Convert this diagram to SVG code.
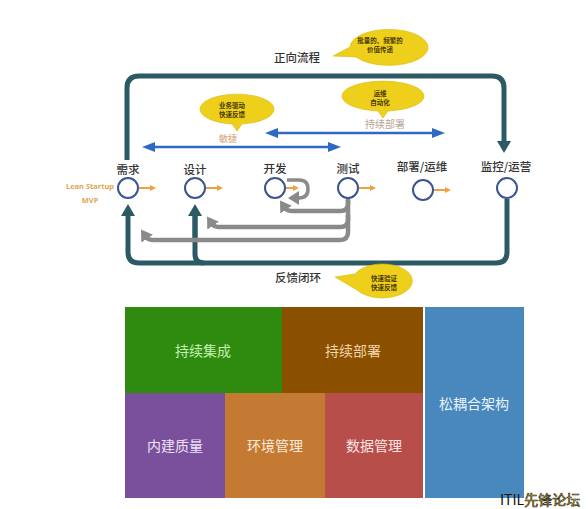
<svg xmlns="http://www.w3.org/2000/svg" width="588" height="509" viewBox="0 0 588 509">
<defs>
<style>
.lbl{font-family:"Noto Sans CJK SC","Noto Sans",sans-serif;font-size:11.5px;font-weight:500;fill:#333;text-anchor:middle}
.bub{fill:#eecf1c;stroke:#d9b900;stroke-width:0.6}
.bt{font-family:"Noto Sans CJK SC",sans-serif;font-size:6.5px;font-weight:bold;fill:#4a3a00;text-anchor:middle}
.node{fill:#fff;stroke:#3b5591;stroke-width:2}
.blk{font-family:"Noto Sans CJK SC",sans-serif;font-size:14px;text-anchor:middle}
.teal{fill:none;stroke:#2c5a64;stroke-width:5}
.gray{fill:none;stroke:#8a8a8a;stroke-width:4.5}
.or{stroke:#f0a040;stroke-width:2}
.blue{stroke:#2f6ac2;stroke-width:2.5}
</style>
<marker id="ah-teal" markerUnits="userSpaceOnUse" markerWidth="14" markerHeight="14" refX="2" refY="7" orient="auto"><path d="M0,0 L12,7 L0,14 Z" fill="#2c5a64"/></marker>
<marker id="ah-gray" markerUnits="userSpaceOnUse" markerWidth="14" markerHeight="14" refX="2" refY="7" orient="auto"><path d="M0,0 L11,7 L0,14 Z" fill="#8a8a8a"/></marker>
<marker id="ah-or" markerUnits="userSpaceOnUse" markerWidth="7" markerHeight="7" refX="1" refY="3" orient="auto"><path d="M0,0 L6,3 L0,6 Z" fill="#f0a040"/></marker>
<marker id="ah-blue" markerUnits="userSpaceOnUse" markerWidth="14" markerHeight="10" refX="2" refY="5" orient="auto-start-reverse"><path d="M0,0 L13,5 L0,10 Z" fill="#2f6ac2"/></marker>
</defs>
<rect width="588" height="509" fill="#fff"/>

<g id="connectors">
<path class="teal" d="M127,160 L127,88 Q127,76 139,76 L492,76 Q504,76 504,88 L504,143" marker-end="url(#ah-teal)"/>
<path class="teal" d="M507,199 L507,252 Q507,263 496,263 L139,263 Q128,263 128,252 L128,214" marker-end="url(#ah-teal)"/>
<path class="teal" d="M195,214 L195,254 Q195,263 204,263" />
<path class="teal" d="M195,240 L195,214" marker-end="url(#ah-teal)"/>
<path class="gray" d="M348,198 L348,232 Q348,240 340,240 L154,240 Q148,240 146,237" marker-end="url(#ah-gray)"/>
<path class="gray" d="M348,215 L348,220 Q348,227 340,227 L220,227 Q214,227 212,224" marker-end="url(#ah-gray)"/>
<path class="gray" d="M348,200 L348,204 Q348,211 340,211 L293,211 Q287,211 285,208" marker-end="url(#ah-gray)"/>
<path class="gray" style="stroke-width:3.5" d="M287,180 L299,180 Q308,180 308,189 Q308,198 299,198 L297,198" marker-end="url(#ah-gray)"/>
<line class="or" x1="139" y1="188" x2="151" y2="188" marker-end="url(#ah-or)"/>
<line class="or" x1="206" y1="188" x2="218" y2="188" marker-end="url(#ah-or)"/>
<line class="or" x1="286" y1="188" x2="294" y2="188" marker-end="url(#ah-or)"/>
<line class="or" x1="359" y1="188" x2="371" y2="188" marker-end="url(#ah-or)"/>
<line class="or" x1="434" y1="190" x2="446" y2="190" marker-end="url(#ah-or)"/>
<line class="blue" x1="153" y1="147" x2="330" y2="147" marker-start="url(#ah-blue)" marker-end="url(#ah-blue)"/>
<line class="blue" x1="276" y1="133" x2="434" y2="133" marker-start="url(#ah-blue)" marker-end="url(#ah-blue)"/>
</g>

<g id="labels">
<text x="297" y="62" class="lbl">正向流程</text>
<text x="298" y="282" class="lbl">反馈闭环</text>
<text x="228" y="142" style="font-family:'Noto Sans CJK SC',sans-serif;font-size:9px;fill:#d4a070;text-anchor:middle">敏捷</text>
<text x="385" y="128" style="font-family:'Noto Sans CJK SC',sans-serif;font-size:10px;fill:#b9a394;text-anchor:middle">持续部署</text>
<text x="90" y="189" style="font-family:'Noto Sans',sans-serif;font-size:7.5px;font-weight:bold;fill:#e3a55a;text-anchor:middle">Lean Startup</text>
<text x="90" y="203" style="font-family:'Noto Sans',sans-serif;font-size:7.5px;font-weight:bold;fill:#e3a55a;text-anchor:middle">MVP</text>
</g>

<g id="bubble-value">
<path class="bub" d="M333,56 L350,47 A39,18 0 1 1 356,57 Z"/>
<text x="380" y="43" class="bt">批量的、频繁的</text>
<text x="380" y="52" class="bt">价值传递</text>
</g>
<g id="bubble-ops">
<path class="bub" d="M383,118 L378,111 A41,15 0 1 1 388,111 Z"/>
<text x="380" y="96" class="bt">运维</text>
<text x="380" y="105" class="bt">自动化</text>
</g>
<g id="bubble-biz">
<path class="bub" d="M237,131 L232,124 A37,15 0 1 1 242,124 Z"/>
<text x="232" y="108" class="bt">业务驱动</text>
<text x="232" y="117" class="bt">快速反馈</text>
</g>
<g id="bubble-fast">
<path class="bub" d="M335,277 L355,274 A30,17 0 1 1 357,290 Z"/>
<text x="384" y="281" class="bt">快速验证</text>
<text x="384" y="290" class="bt">快速反馈</text>
</g>

<g id="node-req"><text x="128" y="174" class="lbl">需求</text><circle class="node" cx="128" cy="188" r="10"/></g>
<g id="node-design"><text x="195" y="174" class="lbl">设计</text><circle class="node" cx="195" cy="188" r="10"/></g>
<g id="node-dev"><text x="275" y="173" class="lbl">开发</text><circle class="node" cx="275" cy="188" r="10"/></g>
<g id="node-test"><text x="348" y="173" class="lbl">测试</text><circle class="node" cx="348" cy="188" r="10"/></g>
<g id="node-deploy"><text x="422" y="171" class="lbl">部署/运维</text><circle class="node" cx="423" cy="190" r="10"/></g>
<g id="node-monitor"><text x="506" y="171" class="lbl">监控/运营</text><circle class="node" cx="507" cy="188" r="10"/></g>

<g id="block-ci"><rect x="125" y="307" width="157" height="86" fill="#2e8b10"/><text x="203" y="356" class="blk" fill="#c9f0b4">持续集成</text></g>
<g id="block-cd"><rect x="282" y="307" width="141" height="86" fill="#8a5000"/><text x="353" y="356" class="blk" fill="#f2d2a8">持续部署</text></g>
<g id="block-arch"><rect x="425" y="307" width="99" height="191" fill="#4888bc"/><text x="474" y="409" class="blk" fill="#e8f2fa">松耦合架构</text></g>
<g id="block-quality"><rect x="125" y="393" width="100" height="105" fill="#7a509c"/><text x="175" y="451" class="blk" fill="#efe4f6">内建质量</text></g>
<g id="block-env"><rect x="225" y="393" width="100" height="105" fill="#c47a32"/><text x="275" y="451" class="blk" fill="#fbeadb">环境管理</text></g>
<g id="block-data"><rect x="325" y="393" width="98" height="105" fill="#b84e4a"/><text x="374" y="451" class="blk" fill="#fbe4e2">数据管理</text></g>

<text x="500" y="505" style="font-family:'Noto Sans CJK SC',sans-serif;font-size:14px"><tspan fill="#111">ITIL</tspan><tspan fill="#f2c40a" stroke="#222" stroke-width="0.6">先锋论坛</tspan></text>
</svg>
